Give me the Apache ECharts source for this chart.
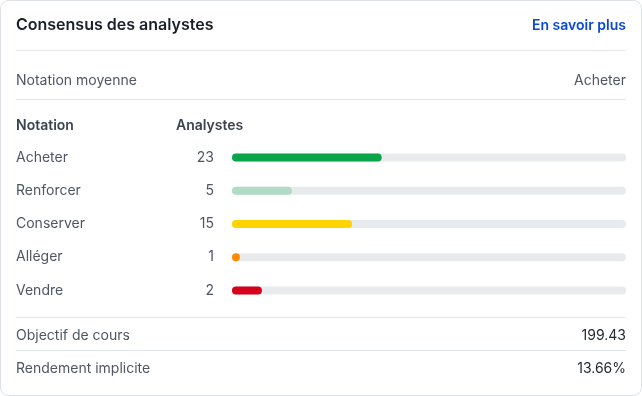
<!DOCTYPE html>
<html><head><meta charset="utf-8">
<script src="https://cdn.jsdelivr.net/npm/echarts@6/dist/echarts.min.js"></script>
<style>html,body{margin:0;padding:0;background:#fff;}#c{width:642px;height:396px;}</style>
</head><body><div id="c"></div>
<script>
const ratings = ['Acheter', 'Renforcer', 'Conserver', 'Alléger', 'Vendre'];
const analystCounts = [23, 5, 15, 1, 2];
// bar length as share of the track (percent)
const barShare = [38, 15.2, 30.5, 2, 7.6];
const barColors = ['#0aa54a', '#b1dbc5', '#ffd400', '#ff8a00', '#d6001c'];
const summaryRows = [['Notation moyenne', 'Acheter']];
const footerRows = [['Objectif de cours', '199.43'], ['Rendement implicite', '13.66%']];

const FONT = 'Inter, "Noto Sans", sans-serif';
const chart = echarts.init(document.getElementById('c'));
const L = 16, R = 626;
function line(y) {
  return { type: 'line', shape: { x1: L, y1: y, x2: R, y2: y }, style: { stroke: '#e1e4e8', lineWidth: 1 }, silent: true };
}
function txt(x, y, t, o) {
  return { type: 'text', x: x, y: y, style: Object.assign({ text: t, font: '14px ' + FONT, fill: '#4f5663', textAlign: 'left', textVerticalAlign: 'middle' }, o || {}) };
}
const graphics = [
  { type: 'rect', shape: { x: 0.5, y: 0.5, width: 641, height: 395, r: 8 }, style: { fill: 'none', stroke: '#dde0e5', lineWidth: 1 }, silent: true, z: -1 },
  txt(L, 25.5, 'Consensus des analystes', { font: '600 16px ' + FONT, fill: '#1b1f29' }),
  txt(R, 26, 'En savoir plus', { font: '600 14px ' + FONT, fill: '#0b48d4', textAlign: 'right' }),
  line(50.5),
  txt(L, 80.5, summaryRows[0][0]),
  txt(R, 80.5, summaryRows[0][1], { textAlign: 'right' }),
  line(99.5),
  txt(L, 126, 'Notation', { font: '600 14px ' + FONT, fill: '#3c4350' }),
  txt(176, 126, 'Analystes', { font: '600 14px ' + FONT, fill: '#3c4350' }),
  line(317.5),
  txt(L, 335.5, footerRows[0][0]),
  txt(R, 335.5, footerRows[0][1], { textAlign: 'right', fill: '#252a33' }),
  line(350.5),
  txt(L, 368.5, footerRows[1][0]),
  txt(R, 368.5, footerRows[1][1], { textAlign: 'right', fill: '#252a33' })
];

chart.setOption({
  animation: false,
  grid: { left: 232, right: 642 - R, top: 141, height: 166 },
  xAxis: { type: 'value', min: 0, max: 100, show: false },
  yAxis: [
    { type: 'category', data: ratings, inverse: true, axisLine: { show: false }, axisTick: { show: false },
      axisLabel: { align: 'left', margin: 232 - L, color: '#4f5663', fontSize: 14, fontFamily: FONT } },
    { type: 'category', position: 'left', data: analystCounts.map(String), inverse: true, axisLine: { show: false }, axisTick: { show: false },
      axisLabel: { align: 'right', margin: 18, color: '#4f5663', fontSize: 14, fontFamily: FONT } }
  ],
  series: [{
    type: 'bar', yAxisIndex: 0, barWidth: 8,
    data: barShare.map((v, i) => ({ value: v, itemStyle: { color: barColors[i] } })),
    itemStyle: { borderRadius: 4 },
    showBackground: true,
    backgroundStyle: { color: '#e8ebee', borderRadius: 4 }
  }],
  graphic: graphics
});
</script></body></html>
